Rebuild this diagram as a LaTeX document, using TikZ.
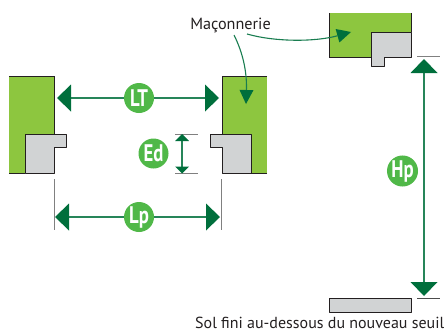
\documentclass[tikz,border=0pt]{standalone}
\usepackage{fontspec}
\setmainfont{PT Sans}
\usetikzlibrary{arrows.meta}
\definecolor{wallgreen}{HTML}{8DC63F}
\definecolor{badge}{HTML}{50B848}
\definecolor{arrowgreen}{HTML}{006F3C}
\definecolor{sill}{HTML}{D1D3D4}
\definecolor{ink}{HTML}{231F20}
\newcommand{\badgetext}[1]{\scalebox{0.78}[1]{#1}}
\tikzset{
  x=1pt,y=-1pt,
  wall/.style={fill=wallgreen,draw=none},
  edge/.style={draw=ink,line width=1pt},
  sillshape/.style={fill=sill,draw=ink,line width=1pt,line join=round},
  tick/.style={draw=black!50,line width=0.9pt},
  tickdark/.style={draw=black!70,line width=0.8pt},
  bigdim/.style={draw=arrowgreen!85!white,line width=1.2pt,-{Triangle[length=14pt,width=27pt,color=arrowgreen,fill=arrowgreen,line width=0pt]}},
  smalldim/.style={draw=arrowgreen!85!white,line width=1.2pt,{Triangle[length=7pt,width=14pt,color=arrowgreen,fill=arrowgreen,line width=0pt]}-{Triangle[length=7pt,width=14pt,color=arrowgreen,fill=arrowgreen,line width=0pt]}},
  curvearrow/.style={draw=arrowgreen!90!white,line width=1.1pt,-{Triangle[length=14pt,width=14pt,color=arrowgreen,fill=arrowgreen,line width=0pt]}},
  badgenode/.style={circle,fill=badge,minimum size=30pt,inner sep=0pt,text=white,font=\fontsize{24}{24}\selectfont\bfseries},
  lbl/.style={text=ink,inner sep=0pt,font=\fontsize{16.2}{17}\selectfont},
  sollbl/.style={text=ink,inner sep=0pt,font=\fontsize{16}{17}\selectfont}
}
\begin{document}
\begin{tikzpicture}
\useasboundingbox (0,0) rectangle (446,332);
% left wall
\path[wall] (9,76) rectangle (54,173);
\draw[edge] (9,76) -- (54,76) -- (54,134);
\draw[edge] (9,173) -- (25,173);
\draw[sillshape] (25,173) -- (25,134) -- (66,134) -- (66,147) -- (54,147) -- (54,173) -- cycle;
% middle wall
\path[wall] (222,76) rectangle (267,173);
\draw[edge] (267,76) -- (222,76) -- (222,134);
\draw[edge] (267,173) -- (251,173);
\draw[sillshape] (251,173) -- (251,134) -- (210.5,134) -- (210.5,147) -- (222,147) -- (222,173) -- cycle;
% top right wall
\path[wall] (329,13) rectangle (411,57);
\draw[edge] (329,13) -- (329,57) -- (371,57);
\draw[edge] (411,13) -- (411,32);
\draw[sillshape] (411,57) -- (411,32) -- (371,32) -- (371,66.5) -- (384,66.5) -- (384,57) -- cycle;
% floor
\draw[sillshape] (329,298) rectangle (411,312);
% ticks
\draw[tick] (54,179) -- (54,230);
\draw[tick] (221,179) -- (221,230);
\draw[tick] (175,134) -- (198,134);
\draw[tick] (175,173.5) -- (198,173.5);
\draw[tick] (417,56.5) -- (440,56.5);
\draw[tickdark] (417,298) -- (440,298);
% end points
\coordinate (ltl) at (57,98);
\coordinate (ltr) at (219,98);
\coordinate (lpl) at (55,217);
\coordinate (lpr) at (220,217);
\coordinate (edt) at (182,134);
\coordinate (edb) at (182,173.5);
\coordinate (hpt) at (424,59);
\coordinate (hpb) at (424,296);
\coordinate (hpm) at (424,171);
\coordinate (t1) at (246,104);
\coordinate (t2) at (351,32);
% badges
\node[badgenode] (LT) at (139,98) {\badgetext{LT}};
\node[badgenode] (Lp) at (139,217) {\badgetext{Lp}};
\node[badgenode] (Ed) at (153.5,153.5) {\badgetext{Ed}};
\node[badgenode] (Hp) at (402.5,171) {\badgetext{Hp}};
% connectors
\draw[bigdim] (LT) -- (ltl);
\draw[bigdim] (LT) -- (ltr);
\draw[bigdim] (Lp) -- (lpl);
\draw[bigdim] (Lp) -- (lpr);
\draw[smalldim] (edt) -- (edb);
\draw[bigdim] (hpm) -- (hpt);
\draw[bigdim] (hpm) -- (hpb);
% labels
\node[lbl,anchor=base] (mac) at (230.5,29) {Maçonnerie};
\node[sollbl,anchor=base east] (sol) at (444.5,328.5) {Sol fini au-dessous du nouveau seuil};
\coordinate (m1) at (234,35);
\coordinate (m2) at (247,34);
\draw[curvearrow] (m1) .. controls (243,53) and (247,72) .. (t1);
\draw[curvearrow] (m2) .. controls (275,42) and (315,42) .. (t2);
\end{tikzpicture}
\end{document}
